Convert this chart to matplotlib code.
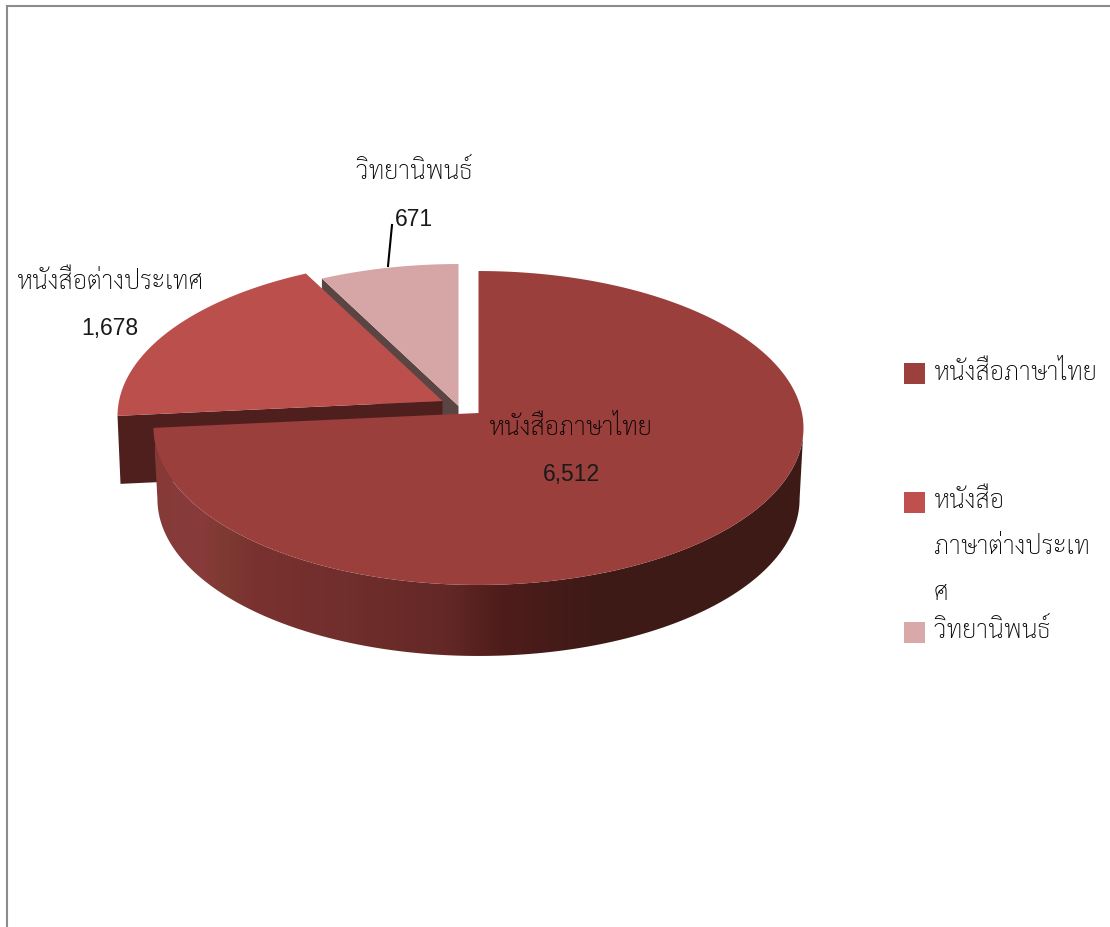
import numpy as np
import matplotlib
matplotlib.use('Agg')
import matplotlib.pyplot as plt
from matplotlib.colors import LinearSegmentedColormap
from matplotlib.patches import Polygon, Rectangle

# Book holdings by type
categories = ['หนังสือภาษาไทย', 'หนังสือต่างประเทศ', 'วิทยานิพนธ์']
values = [6512, 1678, 671]
legend_lines = [['หนังสือภาษาไทย'], ['หนังสือ', 'ภาษาต่างประเท', 'ศ'], ['วิทยานิพนธ์']]

top_colors = ['#9a3f3c', '#bb4f4c', '#d6a6a6']
swatch_colors = ['#9b403d', '#c0504d', '#d9a9a9']
wall_colors = ['#5a4543', '#4f1f1e']
THAI = 'Sarabun'
LATIN = 'Liberation Sans'

# pie geometry, in pixels
CX, CY = 478.5, 414
RX = 323.5
K = 0.0955
B = -116
DEPTH = 71
offsets = [(0, 0), (-36, -12), (-20, -7)]


def project(deg, r=1.0):
    "Pie angle (degrees) to screen position, with a little perspective"
    u = r * np.cos(np.radians(deg))
    v = r * np.sin(np.radians(deg))
    w = 1 + K * v
    return CX + RX * u / w, (CY + B * v) / w


def wedge_points(start, stop, off):
    t = np.linspace(start, stop, 240)
    x, y = project(t)
    x = np.concatenate([[CX], x]) + off[0]
    y = np.concatenate([[CY], y]) + off[1]
    return np.column_stack([x, y])


fig = plt.figure(figsize=(11.1, 9.28), dpi=100)
ax = fig.add_axes([0, 0, 1, 1])
ax.axis('off')

# frame
ax.plot([7, 7, 1110], [928, 7, 7], color='#8c8c8c', linewidth=1.5, solid_joinstyle='miter')

# slice angles, clockwise from the top
shares = np.array(values) / sum(values) * 360
edges = 90 - np.concatenate([[0], np.cumsum(shares)])

# thesis slice: side wall then top
x_e, y_e = project(edges[2])
tx, ty = x_e + offsets[2][0], y_e + offsets[2][1]
ax_x, ax_y = CX + offsets[2][0], CY + offsets[2][1]
ax.add_patch(Polygon([(tx, ty), (ax_x, ax_y), (ax_x, ax_y + DEPTH), (tx, ty + DEPTH)],
                     facecolor=wall_colors[0], edgecolor='none', zorder=1))
ax.add_patch(Polygon(wedge_points(edges[2], edges[3], offsets[2]),
                     facecolor=top_colors[2], edgecolor='none', zorder=2))

# foreign slice: side wall then top
x_e, y_e = project(edges[1])
fx, fy = x_e + offsets[1][0], y_e + offsets[1][1]
ax_x, ax_y = CX + offsets[1][0], CY + offsets[1][1]
ax.add_patch(Polygon([(fx, fy), (ax_x, ax_y), (ax_x, ax_y + 68), (fx + 3, fy + 68)],
                     facecolor=wall_colors[1], edgecolor='none', zorder=3))
ax.add_patch(Polygon(wedge_points(edges[1], edges[2], offsets[1]),
                     facecolor=top_colors[1], edgecolor='none', zorder=4))

# main slice: outer wall with a left to right shade, then top
wall_cmap = LinearSegmentedColormap.from_list('wall', [
    (0.00, '#853a38'), (0.07, '#883a3b'), (0.10, '#7e3b33'), (0.15, '#7a3230'),
    (0.30, '#702e2c'), (0.45, '#632826'), (0.53, '#4f1d1b'), (0.68, '#3e1a17'),
    (1.00, '#3e1a17')])
t = np.linspace(edges[1] + 360, 354.5, 260)
xs, ys = project(t)
low_x = CX + (xs - CX) * 0.988
wall = Polygon(np.column_stack([np.concatenate([xs, low_x[::-1]]),
                                np.concatenate([ys, ys[::-1] + DEPTH])]),
               facecolor='none', edgecolor='none', transform=ax.transData)
ax.add_patch(wall)
shade = ax.imshow(np.linspace(0, 1, 648).reshape(1, -1), cmap=wall_cmap, vmin=0, vmax=1,
                  extent=(155, 803, 670, 400), aspect='auto', zorder=5)
shade.set_clip_path(wall)
ax.add_patch(Polygon(wedge_points(edges[0], edges[1], offsets[0]),
                     facecolor=top_colors[0], edgecolor='none', zorder=6))

# data labels
ax.plot([392, 388], [226, 267], color='black', linewidth=1.5, zorder=7)
label_pos = [(571, 429, 475), (110, 283, 329), (414, 172, 220)]
for name, val, (lx, ly1, ly2) in zip(categories, values, label_pos):
    ax.text(lx, ly1, name, family=THAI, fontweight='light', fontsize=18.2, color='black',
            ha='center', va='center', zorder=8)
    ax.text(lx, ly2, f'{val:,}', family=LATIN, fontsize=16.5, color='#1a1a1a',
            ha='center', va='center', zorder=8)

# legend
swatch_top = [364, 493, 623]
line_y = [[374], [502, 548, 594], [631]]
for color, y0, lines, ypos in zip(swatch_colors, swatch_top, legend_lines, line_y):
    ax.add_patch(Rectangle((904, y0), 21, 21, facecolor=color, edgecolor='none'))
    for text, y in zip(lines, ypos):
        ax.text(934, y, text, family=THAI, fontweight='light', fontsize=18.2,
                ha='left', va='center', color='black')

ax.set_xlim(0, 1110)
ax.set_ylim(928, 0)

plt.savefig('out.png', dpi=100)
